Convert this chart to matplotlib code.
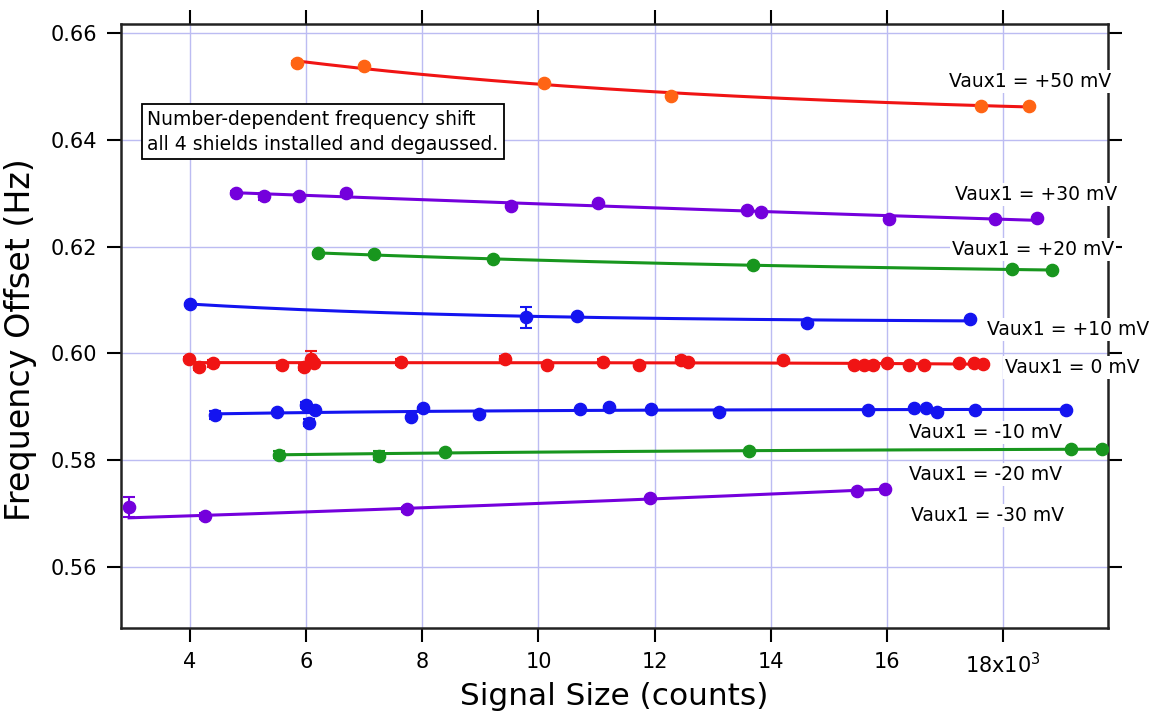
import numpy as np
import matplotlib
matplotlib.use("Agg")
import matplotlib.pyplot as plt

# signal size in units of 10^3 counts, frequency offset in Hz
x_p50 = [5.84, 7.00, 10.09, 12.29, 17.63, 18.45]
y_p50 = [0.6544, 0.6539, 0.6507, 0.6482, 0.6464, 0.6464]
e_p50 = [0.0004, 0.0002, 0.0002, 0.0002, 0.0002, 0.0002]

x_p30 = [4.79, 5.28, 5.88, 6.68, 9.52, 11.02, 13.60, 13.83, 16.04, 17.86, 18.59]
y_p30 = [0.6301, 0.6294, 0.6295, 0.6300, 0.6276, 0.6282, 0.6269, 0.6265, 0.6251, 0.6251, 0.6253]
e_p30 = [0.0003, 0.0006, 0.0003, 0.0003, 0.0002, 0.0002, 0.0002, 0.0002, 0.0002, 0.0002, 0.0002]

x_p20 = [6.20, 7.16, 9.22, 13.70, 18.15, 18.84]
y_p20 = [0.6187, 0.6186, 0.6176, 0.6165, 0.6157, 0.6156]
e_p20 = [0.0002, 0.0002, 0.0002, 0.0002, 0.0002, 0.0002]

x_p10 = [4.00, 9.79, 10.67, 14.62, 17.44]
y_p10 = [0.6092, 0.6067, 0.6070, 0.6057, 0.6064]
e_p10 = [0.0003, 0.0019, 0.0002, 0.0005, 0.0002]

x_0 = [3.98, 4.16, 4.40, 5.58, 5.97, 6.08, 6.13, 7.64, 9.42, 10.15, 11.11, 11.74,
       12.46, 12.58, 14.22, 15.43, 15.60, 15.76, 16.00, 16.38, 16.64, 17.24, 17.50, 17.65]
y_0 = [0.5990, 0.5975, 0.5981, 0.5978, 0.5974, 0.5990, 0.5981, 0.5983, 0.5989, 0.5978, 0.5984, 0.5978,
       0.5988, 0.5984, 0.5988, 0.5978, 0.5978, 0.5978, 0.5981, 0.5978, 0.5978, 0.5981, 0.5982, 0.5980]
e_0 = [0.0002, 0.0007, 0.0007, 0.0005, 0.0006, 0.0014, 0.0002, 0.0006, 0.0005, 0.0002, 0.0005, 0.0002,
       0.0004, 0.0002, 0.0002, 0.0002, 0.0002, 0.0002, 0.0002, 0.0002, 0.0002, 0.0002, 0.0002, 0.0004]

x_m10 = [4.43, 5.50, 6.00, 6.04, 6.16, 7.81, 8.02, 8.97, 10.71, 11.22, 11.94, 13.11,
         15.67, 16.46, 16.68, 16.86, 17.52, 19.08]
y_m10 = [0.5884, 0.5890, 0.5903, 0.5870, 0.5894, 0.5881, 0.5897, 0.5886, 0.5895, 0.5899, 0.5895, 0.5890,
         0.5894, 0.5897, 0.5897, 0.5890, 0.5894, 0.5894]
e_m10 = [0.0008, 0.0002, 0.0006, 0.0006, 0.0002, 0.0002, 0.0002, 0.0002, 0.0002, 0.0002, 0.0002, 0.0002,
         0.0002, 0.0002, 0.0002, 0.0002, 0.0002, 0.0002]

x_m20 = [5.54, 7.25, 8.39, 13.63, 19.17, 19.70]
y_m20 = [0.5810, 0.5808, 0.5814, 0.5817, 0.5820, 0.5820]
e_m20 = [0.0007, 0.0009, 0.0002, 0.0002, 0.0002, 0.0004]

x_m30 = [2.95, 4.26, 7.73, 11.92, 15.48, 15.96]
y_m30 = [0.5711, 0.5695, 0.5707, 0.5729, 0.5742, 0.5745]
e_m30 = [0.0019, 0.0005, 0.0005, 0.0002, 0.0002, 0.0002]

labels = ["Vaux1 = +50 mV", "Vaux1 = +30 mV", "Vaux1 = +20 mV", "Vaux1 = +10 mV",
          "Vaux1 = 0 mV", "Vaux1 = -10 mV", "Vaux1 = -20 mV", "Vaux1 = -30 mV"]
xticks = [4, 6, 8, 10, 12, 14, 16, 18]
xticklabels = ["4", "6", "8", "10", "12", "14", "16", "18x10$^{3}$"]
yticks = [0.56, 0.58, 0.60, 0.62, 0.64, 0.66]

red = "#f01414"
orange = "#ff6414"
purple = "#7400dc"
green = "#18961e"
blue = "#1414f0"

series = [
    (x_p50, y_p50, e_p50, orange, red),
    (x_p30, y_p30, e_p30, purple, purple),
    (x_p20, y_p20, e_p20, green, green),
    (x_p10, y_p10, e_p10, blue, blue),
    (x_0, y_0, e_0, red, red),
    (x_m10, y_m10, e_m10, blue, blue),
    (x_m20, y_m20, e_m20, green, green),
    (x_m30, y_m30, e_m30, purple, purple),
]

# label anchor (center) in data coords
label_pos = [(18.47, 0.6509), (18.57, 0.6297), (18.52, 0.6194), (19.13, 0.6045),
             (19.20, 0.5974), (17.70, 0.5852), (17.70, 0.5773), (17.74, 0.5695)]


def exp_fit(x, y, err):
    # weighted fit of y = a + b*exp(k*x), k picked on a grid
    x = np.asarray(x)
    y = np.asarray(y)
    w = 1.0 / np.maximum(np.asarray(err), 0.0005)
    best = None
    for k in np.linspace(-1.0, 0.5, 301):
        basis = x if abs(k) < 1e-6 else np.exp(k * x)
        A = np.vstack([np.ones_like(x), basis]).T
        coef, *_ = np.linalg.lstsq(A * w[:, None], y * w, rcond=None)
        r = np.sum(((A @ coef - y) * w) ** 2)
        if best is None or r < best[0]:
            best = (r, k, coef)
    _, k, coef = best
    xs = np.linspace(x.min(), x.max(), 200)
    basis = xs if abs(k) < 1e-6 else np.exp(k * xs)
    return xs, coef[0] + coef[1] * basis


fig = plt.figure(figsize=(11.51, 7.2), dpi=100)
ax = fig.add_axes([0.1051, 0.1278, 0.8576, 0.8389])

for xs, ys, es, mc, lc in series:
    fx, fy = exp_fit(xs, ys, es)
    ax.plot(fx, fy, color=lc, lw=2.2, zorder=3)
    ax.errorbar(xs, ys, yerr=es, fmt="o", color=mc, ms=8.8, capsize=4,
                elinewidth=1.5, capthick=1.5, zorder=4)

# white boxes behind the labels also blank out the right spine
for text, (lx, ly) in zip(labels, label_pos):
    ax.text(lx, ly, text, fontsize=13.5, ha="center", va="center", zorder=6, clip_on=False,
            bbox=dict(facecolor="white", edgecolor="none", pad=1.5))

ax.text(0.0265, 0.858, "Number-dependent frequency shift\nall 4 shields installed and degaussed.",
        transform=ax.transAxes, fontsize=13.5, ha="left", va="top", linespacing=1.4, zorder=6,
        bbox=dict(facecolor="white", edgecolor="black", lw=1.3, pad=4))

ax.set_xlim(2.81, 19.81)
ax.set_ylim(0.54847, 0.66174)
ax.set_xticks(xticks)
ax.set_xticklabels(xticklabels)
ax.set_yticks(yticks)
ax.set_yticklabels(["%.2f" % v for v in yticks])
ax.grid(True, color="#bcbcf2", lw=1.0)
ax.set_axisbelow(True)

ax.tick_params(direction="out", length=10, width=1.5, labelsize=15, top=True, right=True,
               labeltop=False, labelright=False, pad=7)
for s in ax.spines.values():
    s.set_linewidth(1.8)
    s.set_color("#222222")

ax.set_xlabel("Signal Size (counts)", fontsize=22.5, labelpad=4)
ax.set_ylabel("Frequency Offset (Hz)", fontsize=24)
ax.yaxis.set_label_coords(-0.085, 0.478)

plt.savefig("out.png", dpi=100)
